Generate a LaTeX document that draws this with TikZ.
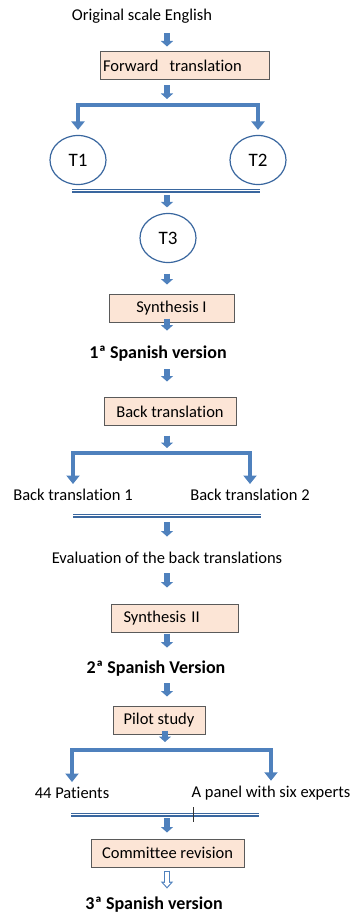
\documentclass[tikz,border=0pt]{standalone}
\usepackage{fontspec}
\setmainfont{Carlito}[Ligatures=NoCommon]
\usepackage{tikz}
\usetikzlibrary{shapes, arrows.meta}
\definecolor{flowBlue}{HTML}{4F81BD}
\definecolor{lineBlue}{HTML}{3A679F}
\definecolor{boxFill}{HTML}{FCE5D6}
\definecolor{boxLine}{HTML}{5A5A5A}
\tikzstyle{step text} = [inner sep=1pt, font=\fontsize{16.5}{18}\selectfont]
\tikzstyle{version} = [inner sep=1pt, font=\fontsize{18}{20}\selectfont\bfseries]
\tikzstyle{process} = [rectangle, draw=boxLine, line width=1pt, fill=boxFill, minimum height=28pt, inner sep=3pt, font=\fontsize{16.5}{18}\selectfont]
\tikzstyle{translator} = [ellipse, draw=lineBlue, line width=1.2pt, fill=white, minimum width=56pt, minimum height=49pt, font=\fontsize{19}{21}\selectfont]
\tikzstyle{connector} = [draw=flowBlue, line width=5.5pt, -{Triangle[width=12pt,length=5.5pt]}]
\tikzstyle{hollowConnector} = [draw=flowBlue, line width=6pt, -{Triangle[width=12pt,length=7pt]}]
\tikzstyle{hollowInside} = [draw=white, line width=3.4pt, -{Triangle[width=7.5pt,length=4pt]}]
\tikzstyle{branch} = [draw=flowBlue, line width=4pt, -{Triangle[width=13pt,length=8.5pt]}]
\tikzstyle{merge} = [draw=lineBlue, double=white, line width=1.2pt, double distance=1.6pt]
\tikzstyle{tick} = [draw=black!80, line width=0.8pt]

\begin{document}
\begin{tikzpicture}[x=1pt,y=1pt]
\useasboundingbox (0,0) rectangle (352,-915);

\coordinate (mid) at (167,0);

\node[step text] at (142,-16) (original) {Original scale English};
\node[process, minimum width=169pt, text width=163pt, align=left] at (184.5,-66) (forward) {Forward\ \ translation};

\coordinate (forkOne) at (167,-105);
\node[translator] at (78,-160) (tOne) {T1};
\node[translator] at (258,-160) (tTwo) {T2};

\coordinate (joinOneLeft) at (72,-190.5);
\coordinate (joinOneRight) at (260,-190.5);
\coordinate (joinOne) at (167,-190.5);
\node[translator] at (168,-238) (tThree) {T3};

\node[process, minimum width=125pt] at (171.5,-308) (synthesisOne) {Synthesis I};
\node[version] at (158,-354) (spanishOne) {1ª Spanish version};

\node[process, minimum width=132pt] at (170,-411.5) (backTrans) {Back translation};
\coordinate (forkTwo) at (167,-453);
\node[step text] at (73,-495) (backOne) {Back translation 1};
\node[step text] at (250,-495) (backTwo) {Back translation 2};

\coordinate (joinTwoLeft) at (73,-515.5);
\coordinate (joinTwoRight) at (261,-515.5);
\coordinate (joinTwo) at (167,-515.5);
\node[step text] at (167,-558) (evaluation) {Evaluation of the back translations};

\node[process, minimum width=127pt, text width=102pt, align=left] at (174.5,-618.5) (synthesisTwo) {Synthesis II};
\node[version] at (156,-669) (spanishTwo) {2ª Spanish Version};

\node[process, minimum width=92pt] at (159,-720.5) (pilot) {Pilot study};
\coordinate (forkThree) at (165,-750);
\node[step text] at (72,-793) (patients) {44 Patients};
\node[step text] at (271,-793) (experts) {A panel with six experts};

\coordinate (joinThreeLeft) at (71,-814.5);
\coordinate (joinThreeRight) at (259,-814.5);
\coordinate (joinThree) at (167,-814.5);
\coordinate (tickTop) at (193,-807);
\coordinate (tickBottom) at (193,-822);

\node[process, minimum width=153pt] at (167.5,-853) (committee) {Committee revision};
\node[version] at (154,-905) (spanishThree) {3ª Spanish version};

\path [connector, shorten <=8.5pt, shorten >=5pt] (original.south -| mid) -- (forward.north -| mid);
\path [connector, shorten <=5pt, shorten >=6pt] (forward.south -| mid) -- (forkOne);
\path [branch, shorten >=5pt] (forkOne) -| (tOne);
\path [branch, shorten >=5pt] (forkOne) -| (tTwo);

\path [merge] (joinOneLeft) -- (joinOneRight);
\path [connector, shorten <=4.5pt, shorten >=5.5pt] (joinOne) -- (tThree.north -| mid);
\path [connector, shorten <=10.5pt, shorten >=9pt] (tThree.south -| mid) -- (synthesisOne.north -| mid);
\path [connector, shorten <=-4pt, shorten >=14.5pt] (synthesisOne.south -| mid) -- (spanishOne.north -| mid);
\path [connector, shorten <=6.5pt, shorten >=15.5pt] (spanishOne.south -| mid) -- (backTrans.north -| mid);
\path [connector, shorten <=9.5pt, shorten >=5pt] (backTrans.south -| mid) -- (forkTwo);
\path [branch, shorten >=4pt] (forkTwo) -| (backOne);
\path [branch, shorten >=4pt] (forkTwo) -| (backTwo);

\path [merge] (joinTwoLeft) -- (joinTwoRight);
\path [connector, shorten <=6.5pt, shorten >=14.5pt] (joinTwo) -- (evaluation.north -| mid);
\path [connector, shorten <=8.5pt, shorten >=16.5pt] (evaluation.south -| mid) -- (synthesisTwo.north -| mid);
\path [connector, shorten <=0.5pt, shorten >=12.5pt] (synthesisTwo.south -| mid) -- (spanishTwo.north -| mid);
\path [connector, shorten <=5.5pt, shorten >=9.5pt] (spanishTwo.south -| mid) -- (pilot.north -| mid);
\path [connector, shorten <=-4.5pt, shorten >=8pt] (pilot.south -| forkThree) -- (forkThree);
\path [branch, shorten >=4pt] (forkThree) -| (patients);
\path [branch, shorten >=4pt] (forkThree) -| (experts);

\path [merge] (joinThreeLeft) -- (joinThreeRight);
\path [tick] (tickTop) -- (tickBottom);
\path [connector, shorten <=3.5pt, shorten >=6pt] (joinThree) -- (committee.north -| mid);
\path [hollowConnector, shorten <=3pt, shorten >=7.5pt] (committee.south -| mid) -- (spanishThree.north -| mid);
\path [hollowInside, shorten <=4.2pt, shorten >=9.3pt] (committee.south -| mid) -- (spanishThree.north -| mid);

\end{tikzpicture}
\end{document}
